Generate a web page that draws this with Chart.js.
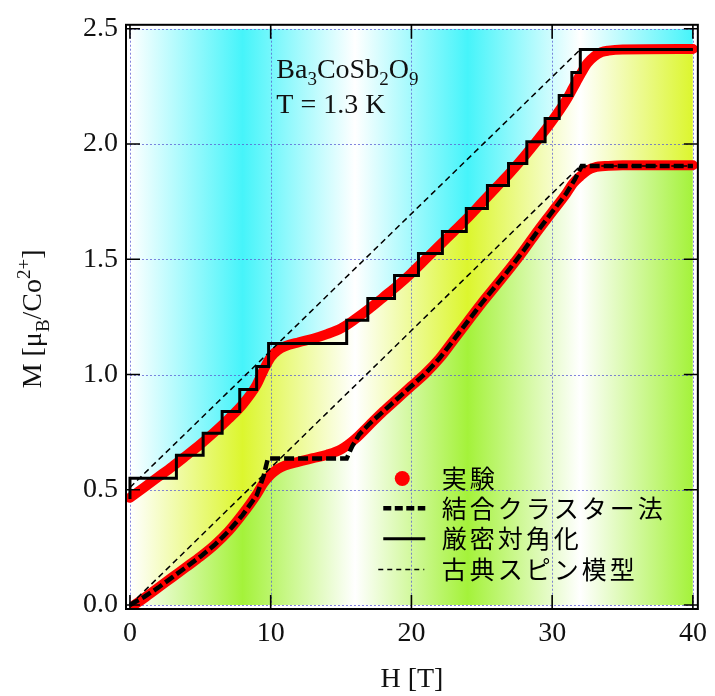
<!DOCTYPE html>
<html><head><meta charset="utf-8">
<script src="https://cdn.jsdelivr.net/npm/chart.js@4"></script>
<style>html,body{margin:0;padding:0;background:#fff;}#wrap{width:715px;height:696px;}</style>
</head><body>
<div id="wrap"><canvas id="c" width="715" height="696"></canvas></div>
<script>
// ---- data ----
const xTicks = [0, 10, 20, 30, 40];
const yTicks = [0, 0.5, 1.0, 1.5, 2.0, 2.5];

const expUpH = [0,1,2,3,4,5,6,7,8,9,9.5,10,10.5,11,12,13,14,15,16,17,18,19,20,21,22,23,24,25,26,27,28,29,30,31,31.5,32,32.5,33,33.5,34,35,40];
const expUpM = [0.465,0.51,0.555,0.6,0.648,0.697,0.75,0.807,0.87,0.955,1.02,1.075,1.105,1.122,1.14,1.155,1.175,1.2,1.24,1.285,1.335,1.385,1.44,1.5,1.56,1.62,1.68,1.745,1.81,1.875,1.945,2.02,2.1,2.19,2.245,2.3,2.35,2.38,2.398,2.405,2.41,2.412];

const expLoH = [0.3,1,2,3,4,5,6,7,8,9,9.5,10,10.5,11,12,13,14,15,16,17,18,19,20,21,22,23,24,25,26,27,28,29,30,31,31.5,32,32.5,33,34,35,40];
const expLoM = [0,0.03,0.075,0.12,0.165,0.21,0.26,0.32,0.395,0.48,0.53,0.565,0.59,0.605,0.622,0.637,0.652,0.675,0.72,0.78,0.84,0.895,0.95,1.005,1.07,1.15,1.23,1.31,1.385,1.46,1.54,1.625,1.705,1.785,1.83,1.86,1.885,1.898,1.905,1.908,1.908];

const ccH = [0,1,2,3,4,5,6,7,8,9,9.5,9.8,15.4,15.8,16.3,17,18,19,20,21,22,23,24,25,26,27,28,29,30,31,31.6,32.1,40];
const ccM = [0,0.035,0.075,0.12,0.165,0.21,0.26,0.32,0.39,0.475,0.56,0.636,0.636,0.69,0.74,0.785,0.84,0.895,0.95,1.005,1.07,1.15,1.23,1.31,1.385,1.46,1.54,1.625,1.705,1.785,1.845,1.905,1.905];

const edH = [0,0,3.3,5.2,6.55,7.8,9.0,9.85,15.4,16.9,18.8,20.5,22.2,23.9,25.4,26.9,28.2,29.5,30.5,31.4,32.0,40];
const edM = [0.46,0.55,0.65,0.745,0.84,0.935,1.035,1.135,1.235,1.33,1.43,1.525,1.62,1.72,1.82,1.915,2.01,2.11,2.21,2.31,2.41,2.41];

const clUpH = [0, 32, 40];
const clUpM = [0.51, 2.41, 2.41];
const clLoH = [0, 32, 40];
const clLoM = [0, 1.905, 1.905];

const legendLabels = ['実験', '結合クラスター法', '厳密対角化', '古典スピン模型'];
const xTitle = 'H [T]';

// ---- helpers ----
const pts = (hs, ms) => hs.map((h, i) => ({x: h, y: ms[i]}));
const SERIF = '"Liberation Serif", "DejaVu Serif", serif';
const CJK = '"Noto Sans CJK JP", "Noto Sans", sans-serif';

const bgPlugin = {
  id: 'bg',
  beforeDatasetsDraw(chart) {
    const {ctx, scales: {x, y}} = chart;
    const X = v => x.getPixelForValue(v), Y = v => y.getPixelForValue(v);
    const x0 = X(xTicks[0]), x1 = X(xTicks[xTicks.length - 1]);
    const yT = Y(yTicks[yTicks.length - 1]), yB = Y(yTicks[0]);
    const band = [0, 8, 16, 24, 32, 40];
    const grad = col => {
      const g = ctx.createLinearGradient(x0, 0, x1, 0);
      band.forEach((b, i) => g.addColorStop(b / 40, i % 2 ? col : '#ffffff'));
      return g;
    };
    const up = pts(expUpH, expUpM), lo = pts(expLoH, expLoM);
    ctx.save();
    ctx.beginPath(); ctx.rect(x0, yT, x1 - x0, yB - yT); ctx.clip();
    // cyan (above upper curve)
    ctx.beginPath(); ctx.moveTo(x0, yT);
    up.forEach(p => ctx.lineTo(X(p.x), Y(p.y)));
    ctx.lineTo(x1, yT); ctx.closePath();
    ctx.fillStyle = grad('#46f4fa'); ctx.fill();
    // yellow (between)
    ctx.beginPath();
    up.forEach((p, i) => i ? ctx.lineTo(X(p.x), Y(p.y)) : ctx.moveTo(X(p.x), Y(p.y)));
    for (let i = lo.length - 1; i >= 0; i--) ctx.lineTo(X(lo[i].x), Y(lo[i].y));
    ctx.lineTo(x0, yB); ctx.closePath();
    ctx.fillStyle = grad('#dcf62e'); ctx.fill();
    // green (below lower curve)
    ctx.beginPath(); ctx.moveTo(x0, yB);
    lo.forEach(p => ctx.lineTo(X(p.x), Y(p.y)));
    ctx.lineTo(x1, yB); ctx.closePath();
    ctx.fillStyle = grad('#a4f23a'); ctx.fill();
    ctx.restore();
    // grid
    ctx.save();
    ctx.strokeStyle = 'rgba(90,90,210,0.75)';
    ctx.lineWidth = 1;
    ctx.setLineDash([2, 2]);
    xTicks.forEach(v => { const px = Math.round(X(v)) + 0.5; ctx.beginPath(); ctx.moveTo(px, yT); ctx.lineTo(px, yB); ctx.stroke(); });
    yTicks.forEach(v => { const py = Math.round(Y(v)) + 0.5; ctx.beginPath(); ctx.moveTo(x0, py); ctx.lineTo(x1, py); ctx.stroke(); });
    ctx.restore();
  },
  afterDraw(chart) {
    const {ctx, chartArea: a, scales: {x, y}} = chart;
    const X = v => x.getPixelForValue(v), Y = v => y.getPixelForValue(v);
    ctx.save();
    // frame
    ctx.strokeStyle = '#000'; ctx.lineWidth = 2;
    ctx.strokeRect(a.left, a.top, a.right - a.left, a.bottom - a.top);
    // inward ticks
    ctx.lineWidth = 1.6;
    const TL = 14;
    xTicks.forEach(v => {
      const px = X(v);
      ctx.beginPath(); ctx.moveTo(px, a.bottom); ctx.lineTo(px, a.bottom - TL);
      ctx.moveTo(px, a.top); ctx.lineTo(px, a.top + TL); ctx.stroke();
    });
    yTicks.forEach(v => {
      const py = Y(v);
      ctx.beginPath(); ctx.moveTo(a.left, py); ctx.lineTo(a.left + TL, py);
      ctx.moveTo(a.right, py); ctx.lineTo(a.right - TL, py); ctx.stroke();
    });
    // rich text helper
    const rich = (parts, sx, sy, size) => {
      let cx = sx;
      parts.forEach(([t, k]) => {
        const fs = k ? Math.round(size * 0.68) : size;
        ctx.font = fs + 'px ' + SERIF;
        const dy = k === 'sub' ? size * 0.28 : k === 'sup' ? -size * 0.38 : 0;
        ctx.fillText(t, cx, sy + dy);
        cx += ctx.measureText(t).width;
      });
      return cx - sx;
    };
    ctx.fillStyle = '#111';
    ctx.textBaseline = 'alphabetic';
    ctx.textAlign = 'left';
    // y-axis title (rotated)
    const yParts = [['M [μ', ''], ['B', 'sub'], ['/Co', ''], ['2+', 'sup'], [']', '']];
    ctx.save();
    // measure
    let w = 0;
    yParts.forEach(([t, k]) => { ctx.font = (k ? Math.round(28 * 0.68) : 28) + 'px ' + SERIF; w += ctx.measureText(t).width; });
    const cy = (a.top + a.bottom) / 2 + 2;
    ctx.translate(41, cy + w / 2);
    ctx.rotate(-Math.PI / 2);
    rich(yParts, 0, 0, 28);
    ctx.restore();
    // annotation
    const ax = X(10.4);
    rich([['Ba', ''], ['3', 'sub'], ['CoSb', ''], ['2', 'sub'], ['O', ''], ['9', 'sub']], ax, Y(2.288), 28);
    rich([['T = 1.3 K', '']], ax, Y(2.133), 28);
    // legend
    const lx = X(19.35), tx = X(22.15);
    const rowY = [Y(0.549), Y(0.42), Y(0.287), Y(0.154)];
    ctx.fillStyle = '#ff0000';
    ctx.beginPath(); ctx.arc(lx, rowY[0], 7.5, 0, Math.PI * 2); ctx.fill();
    ctx.strokeStyle = '#000';
    ctx.lineWidth = 4.5; ctx.setLineDash([8, 3.5]);
    ctx.beginPath(); ctx.moveTo(lx - 19, rowY[1]); ctx.lineTo(lx + 23, rowY[1]); ctx.stroke();
    ctx.lineWidth = 3; ctx.setLineDash([]);
    ctx.beginPath(); ctx.moveTo(lx - 19, rowY[2]); ctx.lineTo(lx + 23, rowY[2]); ctx.stroke();
    ctx.lineWidth = 1.5; ctx.setLineDash([5, 4]);
    ctx.beginPath(); ctx.moveTo(lx - 24, rowY[3]); ctx.lineTo(lx + 22, rowY[3]); ctx.stroke();
    ctx.setLineDash([]);
    ctx.fillStyle = '#000';
    ctx.font = '25px ' + CJK;
    ctx.textBaseline = 'middle';
    try { ctx.letterSpacing = '3px'; } catch (e) {}
    legendLabels.forEach((t, i) => ctx.fillText(t, tx, rowY[i]));
    ctx.restore();
  }
};

new Chart(document.getElementById('c'), {
  type: 'scatter',
  data: {
    datasets: [
      {label: legendLabels[0] + ' upper', data: pts(expUpH, expUpM), showLine: true, borderColor: '#ff0000', borderWidth: 10, pointRadius: 0, cubicInterpolationMode: 'monotone', borderCapStyle: 'round', borderJoinStyle: 'round', order: 10},
      {label: legendLabels[0] + ' lower', data: pts(expLoH, expLoM), showLine: true, borderColor: '#ff0000', borderWidth: 10, pointRadius: 0, cubicInterpolationMode: 'monotone', borderCapStyle: 'round', borderJoinStyle: 'round', order: 10},
      {label: legendLabels[3] + ' upper', data: pts(clUpH, clUpM), showLine: true, borderColor: '#000', borderWidth: 1.5, borderDash: [6, 4], pointRadius: 0, order: 5},
      {label: legendLabels[3] + ' lower', data: pts(clLoH, clLoM), showLine: true, borderColor: '#000', borderWidth: 1.5, borderDash: [6, 4], pointRadius: 0, order: 5},
      {label: legendLabels[2], data: pts(edH, edM), showLine: true, stepped: 'before', borderColor: '#000', borderWidth: 3, pointRadius: 0, order: 1},
      {label: legendLabels[1], data: pts(ccH, ccM), showLine: true, borderColor: '#000', borderWidth: 4.5, borderDash: [10, 4], pointRadius: 0, order: 1}
    ]
  },
  options: {
    responsive: false,
    animation: false,
    layout: {padding: {left: 0, right: 13, top: 18, bottom: 0}},
    plugins: {legend: {display: false}, tooltip: {enabled: false}},
    scales: {
      x: {
        type: 'linear', min: -0.282, max: 40.353,
        afterBuildTicks: s => { s.ticks = xTicks.map(v => ({value: v})); },
        afterFit: s => { s.height = 87; },
        grid: {display: false, drawTicks: false}, border: {display: false},
        ticks: {font: {family: SERIF, size: 28}, color: '#111', padding: 8, maxRotation: 0},
        title: {display: true, text: xTitle, font: {family: SERIF, size: 28}, color: '#111', padding: {top: 0, bottom: 0}}
      },
      y: {
        type: 'linear', min: -0.0172, max: 2.517,
        afterBuildTicks: s => { s.ticks = yTicks.map(v => ({value: v})); },
        afterFit: s => { s.width = 126; },
        grid: {display: false, drawTicks: false}, border: {display: false},
        ticks: {font: {family: SERIF, size: 28}, color: '#111', padding: 8, callback: v => Number(v).toFixed(1)}
      }
    }
  },
  plugins: [bgPlugin]
});
</script>
</body></html>
